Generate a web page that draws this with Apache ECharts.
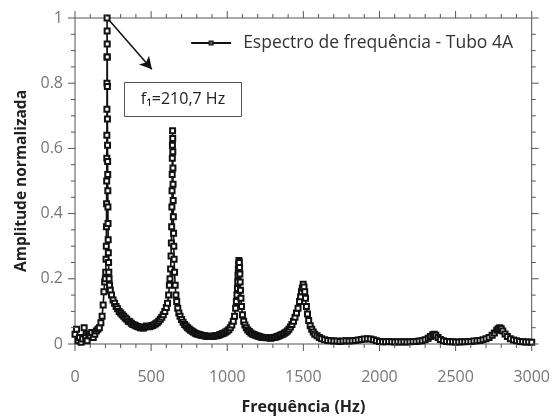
<!DOCTYPE html>
<html>
<head>
<meta charset="utf-8">
<script src="https://cdn.jsdelivr.net/npm/echarts@6/dist/echarts.min.js"></script>
<style>
  html, body { margin: 0; padding: 0; background: #fff; }
  #chart { width: 553px; height: 420px; }
</style>
</head>
<body>
<div id="chart"></div>
<script>
// eixos
const xTicks = [0, 500, 1000, 1500, 2000, 2500, 3000];
const yTicks = [0, 0.2, 0.4, 0.6, 0.8, 1];
const serieNome = 'Espectro de frequência - Tubo 4A';
const picoLabel = 'f₁=210,7 Hz';

// [frequencia (Hz), amplitude normalizada]
const ruidoInicial = [
  [0, 0.03], [10, 0.045], [20, 0.01], [30, 0.02], [40, 0.005], [50, 0.015], [60, 0.05],
  [70, 0.02], [80, 0.01], [90, 0.03], [100, 0.025], [110, 0.035], [120, 0.02], [130, 0.03],
  [140, 0.04], [150, 0.045], [160, 0.05], [170, 0.065], [178, 0.085], [185, 0.12], [190, 0.16],
  [195, 0.19]
];
const pico1 = [
  [199, 0.2], [202, 0.22], [204, 0.26], [205.5, 0.3], [206.5, 0.36], [207.5, 0.43], [208.2, 0.5],
  [208.8, 0.57], [209.3, 0.64], [209.7, 0.72], [210.1, 0.8], [210.4, 0.88], [210.7, 1.0],
  [211.1, 0.96], [211.5, 0.92], [212, 0.88], [212.6, 0.79], [213.2, 0.69], [213.8, 0.61],
  [214.4, 0.56], [215, 0.52], [215.6, 0.47], [216.3, 0.42], [217, 0.37], [218, 0.32],
  [219, 0.28], [220.5, 0.25], [222, 0.22], [224, 0.2], [227, 0.18], [232, 0.165]
];
const vale1 = [
  [240, 0.15], [250, 0.135], [260, 0.125], [270, 0.115], [280, 0.108], [290, 0.1], [300, 0.095],
  [310, 0.09], [320, 0.085], [330, 0.08], [340, 0.076], [350, 0.07], [360, 0.068], [370, 0.064],
  [380, 0.06], [390, 0.058], [400, 0.056], [410, 0.054], [420, 0.052], [430, 0.05], [440, 0.05],
  [450, 0.049], [460, 0.052], [470, 0.055], [480, 0.054], [490, 0.053], [500, 0.055], [510, 0.057],
  [520, 0.059], [530, 0.062], [540, 0.065], [550, 0.07], [560, 0.076], [570, 0.082], [580, 0.09],
  [590, 0.1], [600, 0.112], [608, 0.125], [615, 0.15]
];
const pico2 = [
  [620, 0.18], [624, 0.2], [628, 0.23], [631, 0.27], [633, 0.31], [635, 0.36], [636.5, 0.42],
  [637.5, 0.47], [638.5, 0.52], [639.3, 0.57], [640, 0.61], [641, 0.654], [641.8, 0.63],
  [642.5, 0.59], [643.3, 0.54], [644, 0.49], [645, 0.44], [646, 0.39], [647.5, 0.34], [649, 0.3],
  [651, 0.26], [654, 0.22], [658, 0.18], [663, 0.15], [668, 0.13]
];
const vale2 = [
  [675, 0.11], [682, 0.095], [690, 0.085], [700, 0.075], [710, 0.067], [720, 0.06], [730, 0.055],
  [740, 0.05], [750, 0.046], [760, 0.042], [770, 0.039], [780, 0.036], [790, 0.033], [800, 0.031],
  [810, 0.03], [820, 0.028], [830, 0.027], [840, 0.026], [850, 0.025], [860, 0.024], [870, 0.024],
  [880, 0.023], [890, 0.024], [900, 0.023], [910, 0.024], [920, 0.025], [930, 0.025], [940, 0.026],
  [950, 0.028], [960, 0.03], [970, 0.032], [980, 0.034], [990, 0.037], [1000, 0.04], [1010, 0.044],
  [1020, 0.05], [1030, 0.058], [1040, 0.07]
];
const pico3 = [
  [1048, 0.085], [1055, 0.11], [1060, 0.13], [1064, 0.15], [1067, 0.17], [1069, 0.19], [1071, 0.21],
  [1073, 0.23], [1075, 0.245], [1077, 0.256], [1079, 0.25], [1081, 0.235], [1083, 0.215],
  [1085, 0.19], [1087, 0.165], [1090, 0.14], [1094, 0.115], [1100, 0.09], [1108, 0.07]
];
const vale3 = [
  [1116, 0.058], [1125, 0.05], [1135, 0.043], [1145, 0.038], [1155, 0.034], [1165, 0.031],
  [1175, 0.029], [1185, 0.027], [1195, 0.025], [1205, 0.024], [1215, 0.022], [1225, 0.021],
  [1235, 0.02], [1245, 0.02], [1255, 0.019], [1265, 0.02], [1275, 0.019], [1285, 0.018],
  [1295, 0.019], [1305, 0.02], [1315, 0.021], [1325, 0.022], [1335, 0.024], [1345, 0.026],
  [1355, 0.028], [1365, 0.03], [1375, 0.033], [1385, 0.036], [1395, 0.04], [1405, 0.045],
  [1415, 0.052], [1425, 0.06]
];
const pico4 = [
  [1435, 0.07], [1445, 0.082], [1455, 0.095], [1465, 0.11], [1475, 0.13], [1482, 0.145],
  [1488, 0.16], [1493, 0.172], [1499, 0.183], [1504, 0.175], [1509, 0.16], [1514, 0.14],
  [1520, 0.115], [1527, 0.092], [1535, 0.072], [1545, 0.056], [1555, 0.045], [1565, 0.037],
  [1575, 0.03]
];
const cauda = [
  [1590, 0.025], [1605, 0.02], [1620, 0.016], [1640, 0.013], [1660, 0.011], [1680, 0.01],
  [1700, 0.009], [1720, 0.009], [1740, 0.008], [1760, 0.009], [1780, 0.01], [1800, 0.009],
  [1820, 0.01], [1840, 0.011], [1860, 0.012], [1880, 0.014], [1900, 0.015], [1920, 0.016],
  [1940, 0.015], [1960, 0.013], [1980, 0.01], [2000, 0.008], [2020, 0.007], [2040, 0.007],
  [2060, 0.008], [2080, 0.007], [2100, 0.006], [2120, 0.007], [2140, 0.006], [2160, 0.007],
  [2180, 0.006], [2200, 0.007], [2220, 0.008], [2240, 0.008], [2260, 0.009], [2280, 0.01],
  [2300, 0.013], [2320, 0.018], [2335, 0.023], [2350, 0.028], [2360, 0.03], [2370, 0.027],
  [2385, 0.02], [2400, 0.014], [2420, 0.01], [2440, 0.008], [2460, 0.007], [2480, 0.007],
  [2500, 0.006], [2520, 0.006], [2540, 0.007], [2560, 0.007], [2580, 0.008], [2600, 0.008],
  [2620, 0.009], [2640, 0.01], [2660, 0.011], [2680, 0.013], [2700, 0.016], [2720, 0.02],
  [2740, 0.027], [2755, 0.034], [2770, 0.042], [2780, 0.047], [2790, 0.05], [2800, 0.047],
  [2810, 0.04], [2825, 0.031], [2840, 0.023], [2860, 0.016], [2880, 0.012], [2900, 0.01],
  [2920, 0.008], [2940, 0.007], [2960, 0.006], [2980, 0.006], [3000, 0.005]
];

const espectro = [].concat(ruidoInicial, pico1, vale1, pico2, vale2, pico3, vale3, pico4, cauda);

const font = '"Open Sans", "Noto Sans", sans-serif';
const corEixo = '#555';
const xMin = xTicks[0], xMax = xTicks[xTicks.length - 1];
const yMin = yTicks[0], yMax = yTicks[yTicks.length - 1];

// marcas de eixo para fora (principais e secundarias): [x, y, comprimento]
const marcasX = [];
for (let v = xMin; v <= xMax; v += 100) marcasX.push([v, yMin, v % 500 === 0 ? 7 : 4]);
const marcasY = [];
for (let k = 0; k <= 20; k++) marcasY.push([xMin, +(k * 0.05).toFixed(2), k % 4 === 0 ? 7 : 4]);

function linha (x1, y1, x2, y2) {
  return { type: 'line', shape: { x1, y1, x2, y2 }, style: { stroke: corEixo, lineWidth: 1 } };
}

const chart = echarts.init(document.getElementById('chart'), null, { renderer: 'canvas' });

chart.setOption({
  animation: false,
  backgroundColor: '#fff',
  grid: { left: 75, right: 21, top: 18, bottom: 70, show: true, borderColor: corEixo, borderWidth: 1 },
  legend: {
    right: 35, top: 29,
    itemWidth: 40, itemHeight: 4, itemGap: 6,
    textStyle: { color: '#333', fontSize: 17.5, fontFamily: font, padding: [0, 0, 0, 7] },
    itemStyle: { color: '#222', borderColor: '#222' },
    data: [serieNome]
  },
  xAxis: {
    type: 'value', position: 'bottom',
    min: xMin, max: xMax, interval: 500,
    axisLine: { show: false }, axisTick: { show: false }, splitLine: { show: false },
    axisLabel: { color: '#777', fontSize: 16, fontFamily: font, margin: 25, formatter: v => String(v) },
    name: 'Frequência (Hz)', nameLocation: 'middle', nameGap: 55,
    nameTextStyle: { color: '#222', fontSize: 16, fontWeight: 'bold', fontFamily: font }
  },
  yAxis: {
    type: 'value', position: 'left',
    min: yMin, max: yMax, interval: 0.2,
    axisLine: { show: false }, axisTick: { show: false }, splitLine: { show: false },
    axisLabel: { color: '#777', fontSize: 16, fontFamily: font, margin: 12, formatter: v => String(v) },
    name: 'Amplitude normalizada', nameLocation: 'middle', nameGap: 42,
    nameTextStyle: { color: '#222', fontSize: 15.5, fontWeight: 'bold', fontFamily: font }
  },
  series: [
    {
      name: serieNome,
      type: 'line',
      data: espectro,
      symbol: 'emptyRect',
      symbolSize: 5,
      showAllSymbol: true,
      lineStyle: { color: '#111', width: 1.6 },
      itemStyle: { color: '#111', borderColor: '#111', borderWidth: 1.5 },
      markLine: {
        silent: true,
        symbol: ['none', 'arrow'],
        symbolSize: [10, 12],
        label: { show: false },
        lineStyle: { color: '#111', width: 1.5, type: 'solid' },
        data: [[{ coord: [223, 0.994] }, { coord: [505, 0.843] }]]
      }
    },
    {
      type: 'custom', name: 'marcasX', silent: true, clip: false, z: 5,
      data: marcasX,
      encode: { x: 0, y: 1 },
      renderItem: (params, api) => {
        const v = api.value(0), len = api.value(2);
        const a = api.coord([v, yMin]), b = api.coord([v, yMax]);
        return { type: 'group', children: [
          linha(a[0], a[1], a[0], a[1] + len),
          linha(b[0], b[1], b[0], b[1] - len)
        ] };
      }
    },
    {
      type: 'custom', name: 'marcasY', silent: true, clip: false, z: 5,
      data: marcasY,
      encode: { x: 0, y: 1 },
      renderItem: (params, api) => {
        const v = api.value(1), len = api.value(2);
        const a = api.coord([xMin, v]), b = api.coord([xMax, v]);
        return { type: 'group', children: [
          linha(a[0], a[1], a[0] - len, a[1]),
          linha(b[0], b[1], b[0] + len, b[1])
        ] };
      }
    }
  ],
  graphic: [
    {
      type: 'group', left: 124, top: 82,
      children: [
        { type: 'rect', shape: { x: 0, y: 0, width: 117, height: 34 },
          style: { fill: '#fff', stroke: '#555', lineWidth: 1 } },
        { type: 'text', x: 58.5, y: 17,
          style: { text: picoLabel, fill: '#222', font: '16px ' + font,
                   textAlign: 'center', textVerticalAlign: 'middle' } }
      ]
    }
  ]
});
</script>
</body>
</html>
